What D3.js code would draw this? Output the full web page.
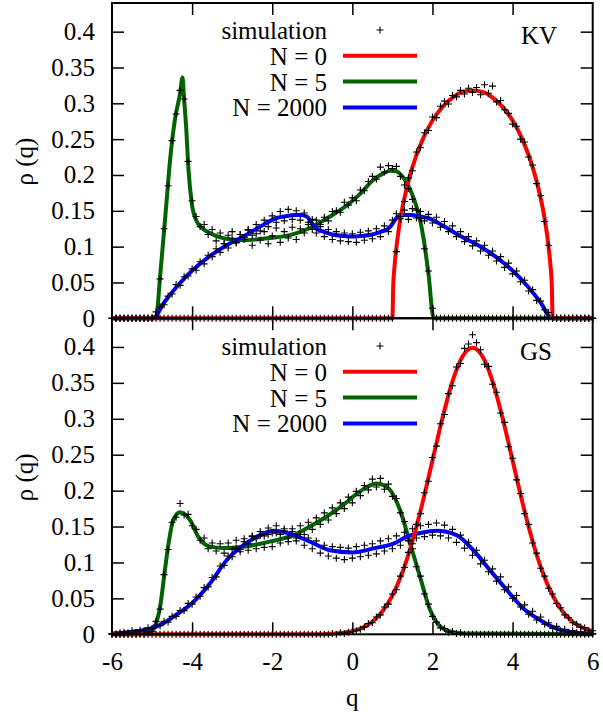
<html>
<head>
<meta charset="utf-8">
<title>rho(q) KV / GS</title>
<script src="https://d3js.org/d3.v7.min.js"></script>
<style>
body { margin: 0; background: #fff; }
svg { display: block; }
.axis path { display: none; }
.axis line { stroke: #000; stroke-width: 1.5; }
.border { fill: none; stroke: #000; stroke-width: 2; }
.curve { fill: none; stroke-width: 4; }
.sim { fill: none; stroke: #000; stroke-width: 1.1; }
</style>
</head>
<body>
<svg width="603" height="717"></svg>

<script>
// ---- data ----
var xTicks = [-6, -4, -2, 0, 2, 4, 6];
var yTicks = [0, 0.05, 0.1, 0.15, 0.2, 0.25, 0.3, 0.35, 0.4];
var seriesNames = ["N = 0", "N = 5", "N = 2000"];
var seriesColors = ["#ff0000", "#006400", "#0000ff"];

// simulation histogram, bins at q = -6, -5.9, ... 6
var simQ = d3.range(121).map(function (i) { return -6 + i * 0.1; });

// KV panel, simulation
var simKV0 = [
  0,0,0,0,0,0,0,0,0,0,
  0,0,0,0,0,0,0,0,0,0,
  0,0,0,0,0,0,0,0,0,0,
  0,0,0,0,0,0,0,0,0,0,
  0,0,0,0,0,0,0,0,0,0,
  0,0,0,0,0,0,0,0,0,0,
  0,0,0,0,0,0,0,0,0,0,
  0,0.093,0.142,0.163,0.196,0.206,0.232,0.238,0.259,0.262,
  0.281,0.280,0.296,0.303,0.299,0.311,0.309,0.318,0.313,0.321,
  0.315,0.322,0.312,0.326,0.314,0.324,0.302,0.304,0.291,0.286,
  0.271,0.268,0.250,0.246,0.225,0.214,0.188,0.171,0.135,0.102,
  0,0,0,0,0,0,0,0,0,0,
  0];
var simKV5 = [
  0,0,0,0,0,0,0,0,0,0,
  0,0.003,0.055,0.125,0.185,0.248,0.285,0.318,0.306,0.219,
  0.164,0.142,0.128,0.131,0.117,0.124,0.108,0.119,0.104,0.116,
  0.121,0.106,0.117,0.113,0.124,0.102,0.118,0.109,0.121,0.104,
  0.115,0.126,0.106,0.121,0.112,0.127,0.110,0.125,0.119,0.131,
  0.124,0.137,0.131,0.141,0.136,0.149,0.150,0.148,0.162,0.158,
  0.168,0.164,0.179,0.178,0.191,0.198,0.194,0.211,0.204,0.213,
  0.209,0.212,0.198,0.186,0.181,0.166,0.151,0.139,0.097,0.066,
  0.014,0,0,0,0,0,0,0,0,0,
  0,0,0,0,0,0,0,0,0,0,
  0,0,0,0,0,0,0,0,0,0,
  0,0,0,0,0,0,0,0,0,0,
  0];
var simKV2000 = [
  0,0,0,0,0,0,0,0,0,0,
  0.001,0.009,0.016,0.019,0.031,0.034,0.047,0.046,0.058,0.059,
  0.069,0.067,0.079,0.076,0.088,0.086,0.097,0.092,0.104,0.098,
  0.111,0.105,0.117,0.110,0.123,0.116,0.131,0.122,0.137,0.128,
  0.143,0.134,0.149,0.136,0.152,0.138,0.150,0.137,0.147,0.134,
  0.138,0.119,0.128,0.114,0.124,0.110,0.121,0.108,0.119,0.107,
  0.118,0.106,0.120,0.109,0.122,0.111,0.125,0.114,0.129,0.121,
  0.137,0.146,0.139,0.151,0.138,0.153,0.140,0.149,0.136,0.145,
  0.133,0.141,0.127,0.135,0.121,0.129,0.114,0.121,0.107,0.114,
  0.101,0.108,0.094,0.102,0.088,0.094,0.080,0.086,0.071,0.077,
  0.062,0.066,0.051,0.053,0.038,0.040,0.025,0.024,0.012,0.008,
  0.001,0,0,0,0,0,0,0,0,0,
  0];

// GS panel, simulation
var simGS0 = [
  0,0,0,0,0,0,0,0,0,0,
  0,0,0,0,0,0,0,0,0,0,
  0,0,0,0,0,0,0,0,0,0,
  0,0,0,0,0,0,0,0,0,0,
  0,0,0,0,0,0,0,0,0,0,
  0,0,0,0,0,0.001,0,0.002,0.001,0.003,
  0.004,0.005,0.007,0.010,0.015,0.016,0.024,0.027,0.038,0.042,
  0.056,0.062,0.081,0.093,0.114,0.126,0.153,0.168,0.197,0.213,
  0.246,0.262,0.293,0.306,0.335,0.346,0.372,0.377,0.398,0.404,
  0.417,0.406,0.396,0.376,0.373,0.348,0.337,0.308,0.295,0.261,
  0.245,0.215,0.196,0.168,0.153,0.127,0.113,0.092,0.081,0.064,
  0.056,0.043,0.037,0.027,0.023,0.016,0.014,0.010,0.009,0.005,
  0.005];
var simGS5 = [
  0,0,0,0,0,0,0,0.001,0,0.003,
  0.004,0.018,0.035,0.083,0.118,0.156,0.163,0.182,0.166,0.167,
  0.151,0.146,0.131,0.134,0.119,0.127,0.116,0.126,0.113,0.127,
  0.118,0.131,0.115,0.133,0.117,0.136,0.119,0.138,0.121,0.139,
  0.122,0.141,0.127,0.144,0.129,0.147,0.134,0.151,0.139,0.156,
  0.146,0.162,0.153,0.169,0.159,0.176,0.168,0.183,0.175,0.191,
  0.183,0.199,0.193,0.207,0.201,0.216,0.205,0.217,0.202,0.209,
  0.192,0.189,0.169,0.157,0.131,0.119,0.094,0.081,0.056,0.042,
  0.025,0.017,0.009,0.008,0.003,0.004,0.001,0.002,0,0,
  0,0,0,0,0,0,0,0,0,0,
  0,0,0,0,0,0,0,0,0,0,
  0,0,0,0,0,0,0,0,0,0,
  0];
var simGS2000 = [
  0.001,0,0.002,0.003,0.002,0.005,0.003,0.006,0.005,0.009,
  0.008,0.013,0.012,0.018,0.017,0.025,0.025,0.033,0.033,0.043,
  0.042,0.052,0.053,0.065,0.066,0.079,0.080,0.095,0.096,0.109,
  0.108,0.120,0.118,0.129,0.126,0.137,0.133,0.143,0.137,0.148,
  0.141,0.151,0.139,0.147,0.134,0.143,0.130,0.139,0.124,0.134,
  0.119,0.130,0.113,0.124,0.109,0.122,0.106,0.121,0.104,0.120,
  0.106,0.122,0.108,0.124,0.110,0.126,0.112,0.130,0.116,0.133,
  0.119,0.137,0.124,0.142,0.130,0.147,0.134,0.151,0.136,0.153,
  0.138,0.155,0.137,0.152,0.134,0.146,0.128,0.138,0.120,0.128,
  0.110,0.117,0.098,0.103,0.087,0.091,0.074,0.080,0.062,0.066,
  0.050,0.054,0.038,0.041,0.028,0.032,0.020,0.024,0.014,0.016,
  0.008,0.011,0.005,0.007,0.003,0.005,0.002,0.003,0.001,0.002,
  0.001];

// KV panel, theory curves
var kvN0q = [-6, 1, 1.02, 1.05, 1.1, 1.2, 1.35, 1.5, 1.75, 2, 2.25, 2.5, 2.75, 3, 3.25, 3.5, 3.75, 4, 4.25, 4.5, 4.65, 4.8, 4.9, 4.95, 4.98, 5, 6];
var kvN0 = [0, 0, 0.045, 0.071, 0.099, 0.139, 0.180, 0.211, 0.249, 0.276, 0.295, 0.308, 0.316, 0.318, 0.316, 0.308, 0.295, 0.276, 0.249, 0.211, 0.180, 0.139, 0.099, 0.071, 0.045, 0, 0];
var kvN5q = [-6, -4.9, -4.8, -4.72, -4.635, -4.55, -4.43, -4.3, -4.24, -4.2, -4.15, -4.09, -4.01, -3.9, -3.75, -3.56, -3.3, -3.0, -2.7, -2.4, -2.06, -1.56, -1.06, -0.56, -0.06, 0.2, 0.52, 0.8, 0.95, 1.1, 1.25, 1.36, 1.5, 1.6, 1.7, 1.77, 1.9, 2.03, 6];
var kvN5 = [0, 0, 0.058, 0.109, 0.165, 0.221, 0.277, 0.314, 0.336, 0.306, 0.268, 0.207, 0.161, 0.137, 0.126, 0.119, 0.113, 0.110, 0.109, 0.110, 0.112, 0.116, 0.126, 0.142, 0.161, 0.174, 0.193, 0.203, 0.206, 0.205, 0.198, 0.189, 0.172, 0.156, 0.135, 0.114, 0.062, 0, 0];
var kvN2000q = [-6, -4.98, -4.7, -4.385, -3.97, -3.55, -3.14, -2.72, -2.3, -1.89, -1.6, -1.47, -1.3, -1.14, -1.06, -0.975, -0.89, -0.72, -0.5, -0.23, 0, 0.23, 0.5, 0.72, 0.89, 0.975, 1.06, 1.14, 1.3, 1.47, 1.6, 1.89, 2.3, 2.72, 3.14, 3.55, 3.97, 4.385, 4.7, 4.98, 6];
var kvN2000 = [0, 0, 0.022, 0.044, 0.068, 0.087, 0.102, 0.114, 0.128, 0.140, 0.143, 0.144, 0.144, 0.142, 0.137, 0.130, 0.125, 0.121, 0.117, 0.115, 0.114, 0.115, 0.117, 0.121, 0.125, 0.130, 0.137, 0.142, 0.144, 0.144, 0.143, 0.140, 0.128, 0.114, 0.102, 0.087, 0.068, 0.044, 0.022, 0, 0];

// GS panel, theory curves
var gsN0q = [-6, -1, -0.5, 0, 0.25, 0.5, 0.75, 1, 1.25, 1.5, 1.75, 2, 2.25, 2.5, 2.75, 3, 3.25, 3.5, 3.75, 4, 4.25, 4.5, 4.75, 5, 5.25, 5.5, 5.75, 6];
var gsN0 = [0, 0.0001, 0.0009, 0.0044, 0.0091, 0.0175, 0.0317, 0.054, 0.0863, 0.1295, 0.1826, 0.242, 0.3011, 0.3521, 0.3867, 0.3989, 0.3867, 0.3521, 0.3011, 0.242, 0.1826, 0.1295, 0.0863, 0.054, 0.0317, 0.0175, 0.0091, 0.0044];
var gsN5q = [-6, -5.3, -5.05, -4.93, -4.8, -4.68, -4.6, -4.47, -4.3, -4.18, -4.05, -3.85, -3.55, -3.22, -2.72, -2.06, -1.47, -1.06, -0.64, -0.23, 0.1, 0.4, 0.6, 0.8, 0.94, 1.19, 1.44, 1.69, 1.94, 2.19, 2.44, 2.8, 6];
var gsN5 = [0, 0.0005, 0.003, 0.011, 0.038, 0.089, 0.122, 0.159, 0.170, 0.167, 0.159, 0.136, 0.122, 0.120, 0.122, 0.129, 0.138, 0.150, 0.164, 0.180, 0.195, 0.206, 0.210, 0.207, 0.201, 0.173, 0.127, 0.080, 0.034, 0.011, 0.004, 0.001, 0];
var gsN2000q = [-6, -5.6, -5.2, -4.8, -4.4, -3.97, -3.55, -3.14, -2.72, -2.3, -1.97, -1.56, -1.06, -0.56, 0, 0.56, 1.06, 1.36, 1.7, 2.1, 2.6, 3.02, 3.44, 3.85, 4.27, 4.68, 5.1, 5.5, 6];
var gsN2000 = [0.001, 0.003, 0.006, 0.013, 0.027, 0.045, 0.071, 0.103, 0.124, 0.138, 0.144, 0.140, 0.129, 0.117, 0.114, 0.120, 0.127, 0.136, 0.141, 0.144, 0.138, 0.117, 0.089, 0.062, 0.036, 0.020, 0.008, 0.003, 0.001];

// ---- drawing ----
var svg = d3.select("svg");

var x = d3.scaleLinear().domain([-6, 6]).range([112, 592.7]);
var yTop = d3.scaleLinear().domain([0, 0.44]).range([318.3, 3]);
var yBot = d3.scaleLinear().domain([0, 0.44]).range([634.3, 318.2]);
var fmt = d3.format(".2~f");
var plus = "M-3.5,0H3.5M0,-3.5V3.5";

function drawPanel(y, curves, sims, name, legendY, nameX, nameY) {
	var g = svg.append("g");
	var y0 = y.range()[0], y1 = y.range()[1];

	// theory lines: N=5, N=2000, N=0 on top
	[1, 2, 0].forEach(function (k) {
		var line = d3.line()
			.x(function (d) { return x(d[0]); })
			.y(function (d) { return y(d[1]); })
			.curve(d3.curveMonotoneX);
		g.append("path").attr("class", "curve")
			.attr("stroke", seriesColors[k])
			.attr("d", line(d3.zip(curves[k][0], curves[k][1])));
	});

	// simulation points
	sims.forEach(function (s) {
		g.selectAll(null).data(s).enter().append("path")
			.attr("class", "sim")
			.attr("d", plus)
			.attr("transform", function (d, i) { return "translate(" + x(simQ[i]) + "," + y(d) + ")"; });
	});

	// axes, ticks pointing inward
	g.append("g").attr("class", "axis").attr("transform", "translate(" + x(-6) + ",0)")
		.call(d3.axisLeft(y).tickValues(yTicks).tickSize(-12).tickPadding(17).tickFormat(fmt));
	g.append("g").attr("class", "axis").attr("transform", "translate(" + x(6) + ",0)")
		.call(d3.axisRight(y).tickValues(yTicks).tickSize(-12).tickFormat(""));
	g.append("g").attr("class", "axis").attr("transform", "translate(0," + y1 + ")")
		.call(d3.axisTop(x).tickValues(xTicks.slice(1, -1)).tickSize(-12).tickFormat(""));
	g.append("g").attr("class", "axis").attr("transform", "translate(0," + y0 + ")")
		.call(d3.axisBottom(x).tickValues(xTicks.slice(1, -1)).tickSize(-12).tickFormat(""));

	g.append("rect").attr("class", "border")
		.attr("x", x(-6)).attr("y", y1)
		.attr("width", x(6) - x(-6)).attr("height", y0 - y1);

	// legend
	var lg = g.append("g");
	lg.append("text").attr("text-anchor", "end")
		.attr("x", 327).attr("y", legendY + 9).text("simulation");
	lg.append("path").attr("class", "sim").attr("d", plus)
		.attr("transform", "translate(380," + legendY + ")");
	seriesNames.forEach(function (n, k) {
		var ly = legendY + 25.8 * (k + 1);
		lg.append("text").attr("text-anchor", "end")
			.attr("x", 327).attr("y", ly + 9).text(n);
		lg.append("line").attr("x1", 343).attr("x2", 417).attr("y1", ly).attr("y2", ly)
			.attr("stroke", seriesColors[k]).attr("stroke-width", 4);
	});

	g.append("text").attr("text-anchor", "end")
		.attr("x", nameX).attr("y", nameY).text(name);

	g.append("text").attr("text-anchor", "middle")
		.attr("transform", "translate(33," + ((y0 + y1) / 2 + 1) + ") rotate(-90)")
		.text("ρ (q)");
}

drawPanel(yTop,
	[[kvN0q, kvN0], [kvN5q, kvN5], [kvN2000q, kvN2000]],
	[simKV0, simKV5, simKV2000], "KV", 30, 557, 43.5);

drawPanel(yBot,
	[[gsN0q, gsN0], [gsN5q, gsN5], [gsN2000q, gsN2000]],
	[simGS0, simGS5, simGS2000], "GS", 346, 552, 360);

// x tick labels under the lower panel
svg.append("g").attr("class", "axis").attr("transform", "translate(0," + yBot.range()[0] + ")")
	.call(d3.axisBottom(x).tickValues(xTicks).tickSize(0).tickPadding(18).tickFormat(d3.format("d")))
	.selectAll("text").text(function (d) { return String(d); });

svg.append("text").attr("text-anchor", "middle")
	.attr("x", x(0)).attr("y", 706).text("q");

// every text in Times-like serif
svg.selectAll("text")
	.style("font-family", "'Liberation Serif'")
	.style("font-size", "25px")
	.style("fill", "#000");
</script>
</body>
</html>
